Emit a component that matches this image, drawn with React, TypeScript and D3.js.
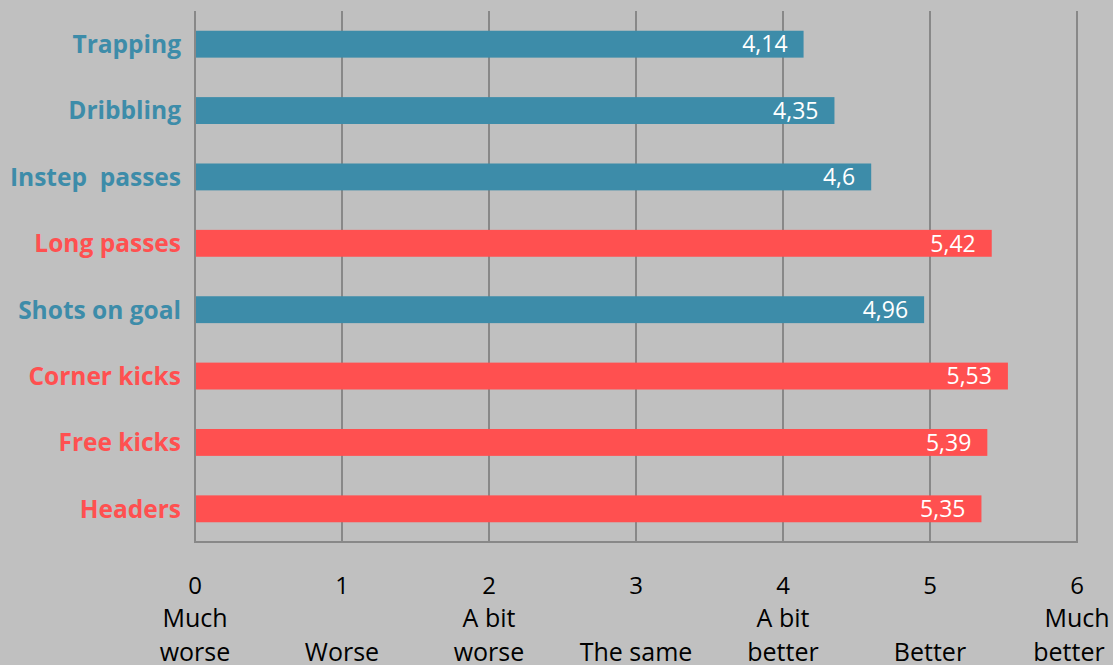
import React from "react";
import * as d3 from "d3";

const categories = ["Trapping", "Dribbling", "Instep  passes", "Long passes", "Shots on goal", "Corner kicks", "Free kicks", "Headers"];
const values = [4.14, 4.35, 4.6, 5.42, 4.96, 5.53, 5.39, 5.35];
const groups = ["blue", "blue", "blue", "red", "blue", "red", "red", "red"];
const tickValues = [0, 1, 2, 3, 4, 5, 6];
const tickLabels = [["Much", "worse"], ["", "Worse"], ["A bit", "worse"], ["", "The same"], ["A bit", "better"], ["", "Better"], ["Much", "better"]];

const W = 1113, H = 665;
const M = { left: 195, right: 36, top: 11, bottom: 123 };

export default function App() {
  const x = d3.scaleLinear().domain([0, 6]).range([M.left, W - M.right]);
  const y = d3.scaleBand<string>().domain(categories).range([M.top, H - M.bottom]).paddingInner(0.595).paddingOuter(0.2975);
  const color = d3.scaleOrdinal<string, string>().domain(["blue", "red"]).range(["#3d8ca9", "#ff5050"]);
  const fmt = (v: number) => String(v).replace(".", ",");
  const font = "'Open Sans', sans-serif";
  return (
    <svg width={W} height={H} style={{ position: "absolute", left: 0, top: 0, background: "#c0c0c0" }} fontFamily={font}>
      <rect x={0} y={0} width={W} height={H} fill="#c0c0c0" />
      {tickValues.map((t) => (
        <line key={t} x1={x(t)} x2={x(t)} y1={M.top} y2={H - M.bottom} stroke="#888888" strokeWidth={2} />
      ))}
      <line x1={x(0) - 1} x2={x(6) + 1} y1={H - M.bottom} y2={H - M.bottom} stroke="#888888" strokeWidth={2} />
      {categories.map((c, i) => (
        <g key={c}>
          <rect x={x(0) + 1} y={y(c)!} width={x(values[i]) - x(0) - 1} height={y.bandwidth()} fill={color(groups[i])} />
          <text x={x(values[i]) - 16} y={y(c)! + y.bandwidth() / 2} dy="0.36em" textAnchor="end" fill="#ffffff" fontSize={23}>
            {fmt(values[i])}
          </text>
          <text x={x(0) - 14} y={y(c)! + y.bandwidth() / 2} dy="0.36em" textAnchor="end" fill={color(groups[i])} fontSize={24.5} fontWeight="bold" style={{ whiteSpace: "pre" }}>
            {c}
          </text>
        </g>
      ))}
      {tickValues.map((t, i) => (
        <g key={"t" + t}>
          <text x={x(t)} y={585} dy="0.36em" textAnchor="middle" fontSize={24} fill="#000">{t}</text>
          <text x={Math.min(x(t), W - 36)} y={618} dy="0.36em" textAnchor="middle" fontSize={25} fill="#000">{tickLabels[i][0]}</text>
          <text x={Math.min(x(t), W - 44)} y={652} dy="0.36em" textAnchor="middle" fontSize={25} fill="#000">{tickLabels[i][1]}</text>
        </g>
      ))}
    </svg>
  );
}
